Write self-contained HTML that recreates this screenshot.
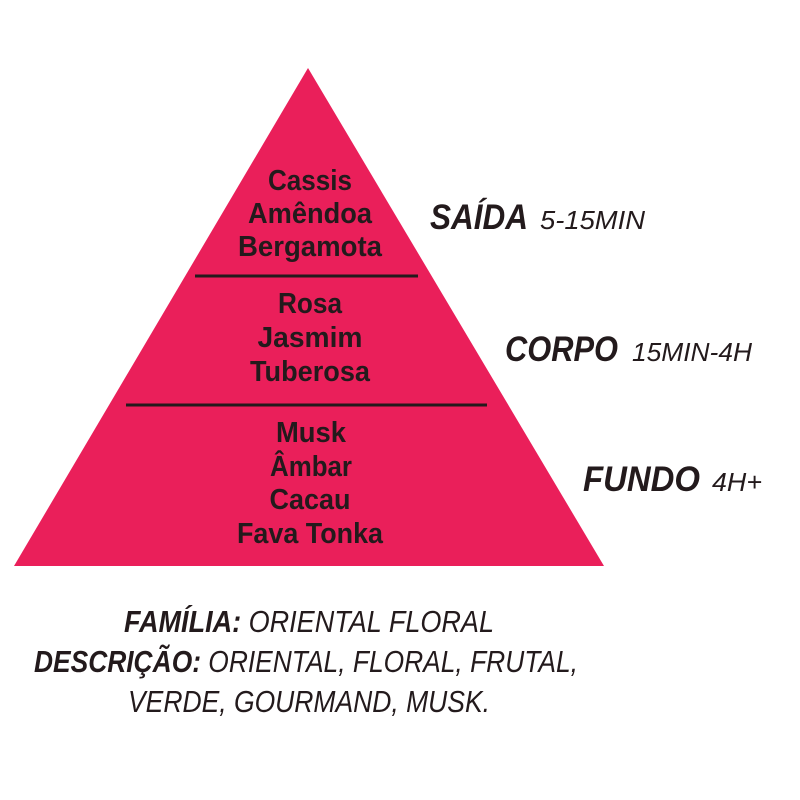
<!DOCTYPE html>
<html><head><meta charset="utf-8"><style>
html,body{margin:0;padding:0;background:#fff;width:800px;height:800px;overflow:hidden}
text{font-family:"Liberation Sans Narrow","Liberation Sans",sans-serif;fill:#231a1c}
</style></head><body>
<svg width="800" height="800" viewBox="0 0 800 800" xmlns="http://www.w3.org/2000/svg">
<polygon points="308,68 604,566 14,566" fill="#ea1f5a"/>
<line x1="195" y1="276" x2="418" y2="276" stroke="#231a1c" stroke-width="3"/>
<line x1="126" y1="405" x2="487" y2="405" stroke="#231a1c" stroke-width="3"/>
<g font-weight="bold" font-size="29" text-anchor="middle">
<text x="310" y="190" textLength="84" lengthAdjust="spacingAndGlyphs">Cassis</text>
<text x="310" y="223" textLength="124" lengthAdjust="spacingAndGlyphs">Amêndoa</text>
<text x="310" y="256" textLength="144" lengthAdjust="spacingAndGlyphs">Bergamota</text>
<text x="310" y="313" textLength="64" lengthAdjust="spacingAndGlyphs">Rosa</text>
<text x="310" y="347" textLength="105" lengthAdjust="spacingAndGlyphs">Jasmim</text>
<text x="310" y="381" textLength="120" lengthAdjust="spacingAndGlyphs">Tuberosa</text>
<text x="311" y="442" textLength="70" lengthAdjust="spacingAndGlyphs">Musk</text>
<text x="311" y="476" textLength="82" lengthAdjust="spacingAndGlyphs">Âmbar</text>
<text x="310" y="509" textLength="81" lengthAdjust="spacingAndGlyphs">Cacau</text>
<text x="310" y="543" textLength="146" lengthAdjust="spacingAndGlyphs">Fava Tonka</text>
</g>
<g font-style="italic">
<text x="430" y="229" font-weight="bold" font-size="35" textLength="98" lengthAdjust="spacingAndGlyphs">SAÍDA</text>
<text x="540" y="229" font-size="26" textLength="105" lengthAdjust="spacingAndGlyphs">5-15MIN</text>
<text x="505" y="361" font-weight="bold" font-size="35" textLength="113" lengthAdjust="spacingAndGlyphs">CORPO</text>
<text x="632" y="361" font-size="26" textLength="120" lengthAdjust="spacingAndGlyphs">15MIN-4H</text>
<text x="583" y="491" font-weight="bold" font-size="35" textLength="117" lengthAdjust="spacingAndGlyphs">FUNDO</text>
<text x="712" y="491" font-size="26" textLength="50" lengthAdjust="spacingAndGlyphs">4H+</text>
</g>
<g font-style="italic" font-size="31">
<text x="124" y="632" textLength="370" lengthAdjust="spacingAndGlyphs"><tspan font-weight="bold">FAMÍLIA:</tspan> ORIENTAL FLORAL</text>
<text x="34" y="672" textLength="544" lengthAdjust="spacingAndGlyphs"><tspan font-weight="bold">DESCRIÇÃO:</tspan> ORIENTAL, FLORAL, FRUTAL,</text>
<text x="128" y="712" textLength="362" lengthAdjust="spacingAndGlyphs">VERDE, GOURMAND, MUSK.</text>
</g>
</svg>
</body></html>
